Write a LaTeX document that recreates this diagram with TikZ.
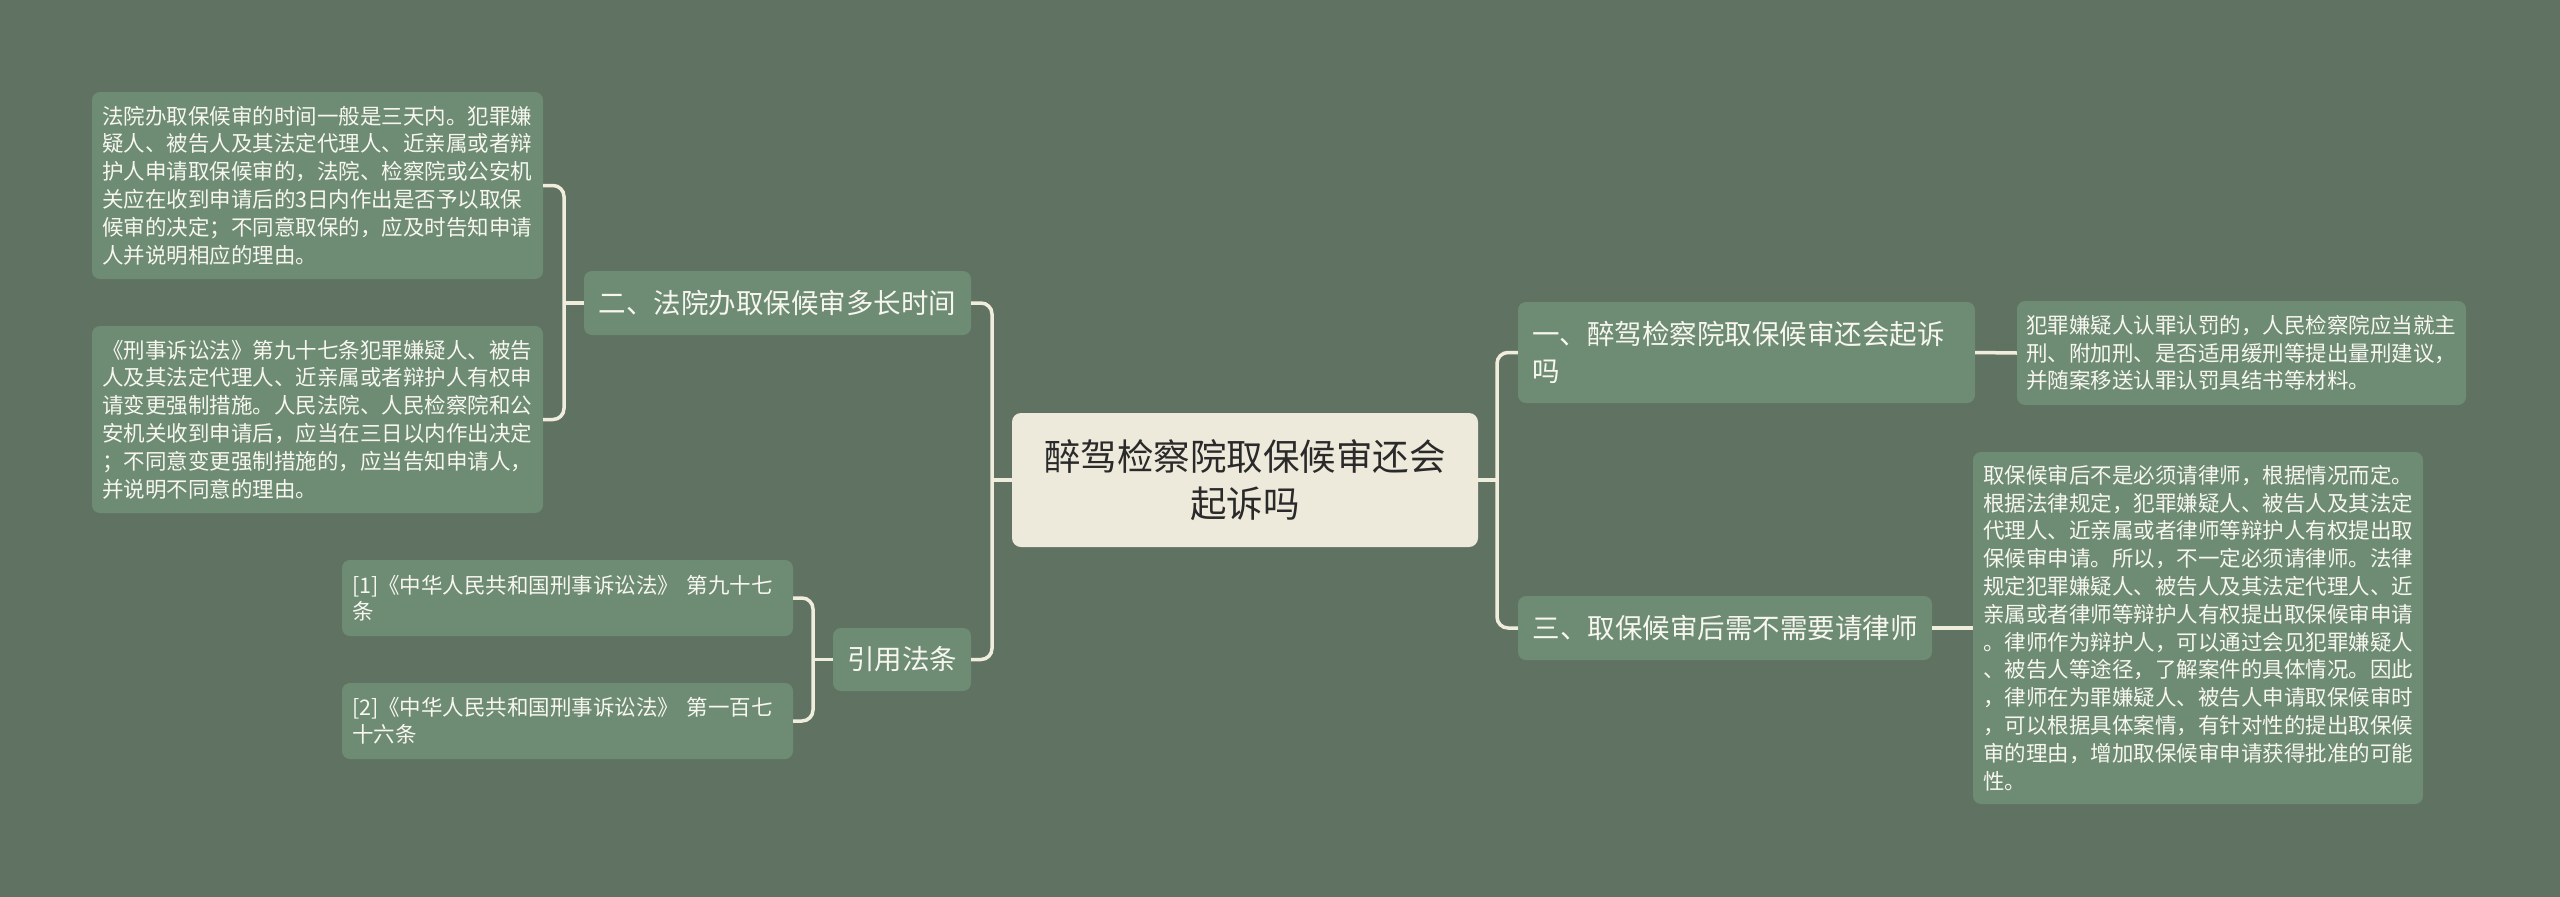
\documentclass[tikz,border=0pt]{standalone}
\usepackage{fontspec}
\setmainfont{Noto Sans CJK SC}
\definecolor{bgc}{HTML}{607262}
\definecolor{nodec}{HTML}{6E8B74}
\definecolor{rootc}{HTML}{EEEADB}
\definecolor{linec}{HTML}{F1EDDD}
\definecolor{txtc}{HTML}{F7F7F0}
\definecolor{roottxt}{HTML}{2A2A2A}
\tikzset{
  box/.style={rectangle, rounded corners=8pt, fill=nodec, text=txtc, inner ysep=0pt, anchor=center},
  leaf/.style={box, align=left, font={\fontsize{21.5}{27.8}\selectfont}},
  mid/.style={box, font={\fontsize{27.5}{37}\selectfont}},
  rootbox/.style={rectangle, rounded corners=9pt, fill=rootc, text=roottxt, align=center, inner sep=0pt, font={\fontsize{36.5}{47}\selectfont}},
  conn/.style={draw=linec, line width=3.5pt, rounded corners=11pt}
}
\begin{document}
\begin{tikzpicture}[x=1pt,y=-1pt]
\fill[bgc] (0,0) rectangle (2560,897);
\useasboundingbox (0,0) rectangle (2560,897);

% root
\node[rootbox, minimum width=466pt, minimum height=134pt] (root) at (1245,480) {醉驾检察院取保候审还会\\起诉吗};

% left level-1
\node[mid, minimum width=387pt, minimum height=64pt, inner xsep=0pt] (er) at (777.5,303) {二、法院办取保候审多长时间};
\node[mid, minimum width=138pt, minimum height=63pt, inner xsep=0pt] (yy) at (902,659.5) {引用法条};

% left leaves
\node[leaf, text width=431pt, inner xsep=10pt, minimum height=187pt] (l1) at (317.5,185.5) {法院办取保候审的时间一般是三天内。犯罪嫌\\疑人、被告人及其法定代理人、近亲属或者辩\\护人申请取保候审的，法院、检察院或公安机\\关应在收到申请后的3日内作出是否予以取保\\候审的决定；不同意取保的，应及时告知申请\\人并说明相应的理由。};
\node[leaf, text width=431pt, inner xsep=10pt, minimum height=187pt] (l2) at (317.5,419.5) {《刑事诉讼法》第九十七条犯罪嫌疑人、被告\\人及其法定代理人、近亲属或者辩护人有权申\\请变更强制措施。人民法院、人民检察院和公\\安机关收到申请后，应当在三日以内作出决定\\；不同意变更强制措施的，应当告知申请人，\\并说明不同意的理由。};

% references
\node[leaf, text width=431pt, inner xsep=10pt, minimum height=76pt, font={\fontsize{21.5}{26.5}\selectfont}] (r1) at (567.5,598) {[1]《中华人民共和国刑事诉讼法》 第九十七\\条};
\node[leaf, text width=431pt, inner xsep=10pt, minimum height=76pt, font={\fontsize{21.5}{26.5}\selectfont}] (r2) at (567.5,721) {[2]《中华人民共和国刑事诉讼法》 第一百七\\十六条};

% right level-1
\node[mid, align=left, text width=429pt, inner xsep=14pt, minimum height=101pt] (yi) at (1746.5,352.5) {一、醉驾检察院取保候审还会起诉\\吗};
\node[mid, minimum width=414pt, minimum height=64pt, inner xsep=0pt] (san) at (1725,628) {三、取保候审后需不需要请律师};

% right leaves
\node[leaf, text width=431pt, inner xsep=9pt, minimum height=104pt] (rl1) at (2241.5,353) {犯罪嫌疑人认罪认罚的，人民检察院应当就主\\刑、附加刑、是否适用缓刑等提出量刑建议，\\并随案移送认罪认罚具结书等材料。};
\node[leaf, text width=430pt, inner xsep=10pt, minimum height=352pt] (rl2) at (2198,628) {取保候审后不是必须请律师，根据情况而定。\\根据法律规定，犯罪嫌疑人、被告人及其法定\\代理人、近亲属或者律师等辩护人有权提出取\\保候审申请。所以，不一定必须请律师。法律\\规定犯罪嫌疑人、被告人及其法定代理人、近\\亲属或者律师等辩护人有权提出取保候审申请\\。律师作为辩护人，可以通过会见犯罪嫌疑人\\、被告人等途径，了解案件的具体情况。因此\\，律师在为罪嫌疑人、被告人申请取保候审时\\，可以根据具体案情，有针对性的提出取保候\\审的理由，增加取保候审申请获得批准的可能\\性。};

% junction coordinates
\coordinate (jL) at (992,480);
\coordinate (jR) at (1497,480);
\coordinate (jA) at (564,303);
\coordinate (jB) at (813,659.5);

% connectors
\draw[conn] (root.west) -- (jL);
\draw[conn] (er.east) -| (jL) |- (yy.east);
\draw[conn] (root.east) -- (jR);
\draw[conn] (yi.west) -| (jR) |- (san.west);
\draw[conn] (er.west) -- (jA);
\draw[conn] (l1.east) -| (jA) |- (l2.east);
\draw[conn] (yy.west) -- (jB);
\draw[conn] (r1.east) -| (jB) |- (r2.east);
\draw[conn] (yi.east) -- (rl1.west);
\draw[conn] (san.east) -- (rl2.west);
\end{tikzpicture}
\end{document}
